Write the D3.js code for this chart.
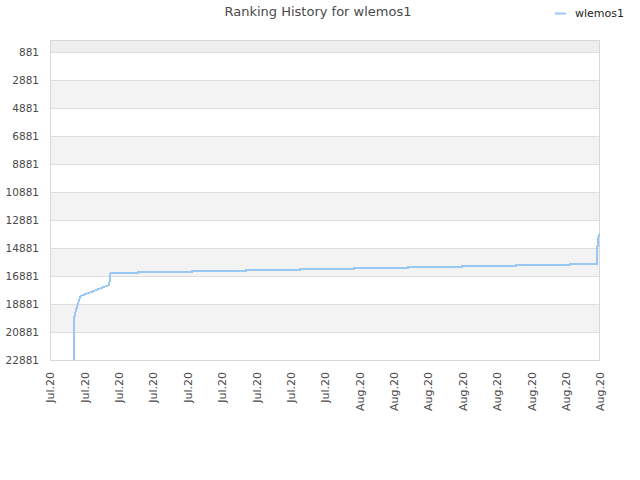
<!DOCTYPE html>
<html><head><meta charset="utf-8">
<script src="https://cdn.jsdelivr.net/npm/d3@7/dist/d3.min.js"></script>
<style>body{margin:0;background:#fff;} text{font-family:"DejaVu Sans",sans-serif;}</style>
</head><body>
<svg id="chart" width="640" height="480"></svg>
<script>
const title = "Ranking History for wlemos1";
const seriesName = "wlemos1";
const yTicks = [881, 2881, 4881, 6881, 8881, 10881, 12881, 14881, 16881, 18881, 20881, 22881];
const xStart = "2020-07-26T08:53";
const xEnd = "2020-08-05T13:20";
const times = [
  "2020-07-26T19:25","2020-07-26T19:25","2020-07-26T20:27","2020-07-26T22:13","2020-07-26T22:53",
  "2020-07-27T11:15","2020-07-27T11:20","2020-07-27T11:46",
  "2020-07-28T00:00","2020-07-28T00:00","2020-07-29T00:00","2020-07-29T00:00",
  "2020-07-30T00:00","2020-07-30T00:00","2020-07-31T00:00","2020-07-31T00:00",
  "2020-08-01T00:00","2020-08-01T00:00","2020-08-02T00:00","2020-08-02T00:00",
  "2020-08-03T00:00","2020-08-03T00:00","2020-08-04T00:00","2020-08-04T00:00",
  "2020-08-05T00:00","2020-08-05T00:00","2020-08-05T11:47","2020-08-05T11:47","2020-08-05T12:48"
];
const ranks = [
  22881, 20020, 19310, 18400, 18290,
  17520, 17310, 16690,
  16690, 16575, 16575, 16503,
  16503, 16431, 16431, 16360,
  16360, 16288, 16288, 16217,
  16217, 16145, 16145, 16074,
  16074, 16002, 16002, 15450, 13900
];

const svg = d3.select("#chart");
const L = 50, R = 600, T = 40, B = 360;
const parse = d3.timeParse("%Y-%m-%dT%H:%M");
const x = d3.scaleTime().domain([parse(xStart), parse(xEnd)]).range([L, R]);
const y = d3.scaleLinear().domain([24, 22881]).range([T, B]);

// bands
const bandEdges = [24].concat(yTicks);
for (let i = 0; i < bandEdges.length - 1; i++) {
  if (i % 2 === 0) {
    svg.append("rect").attr("x", L).attr("width", R - L)
      .attr("y", y(bandEdges[i])).attr("height", y(bandEdges[i + 1]) - y(bandEdges[i]))
      .attr("fill", i === 0 ? "#eeeeee" : "#f3f3f3");
  }
}
// grid lines
svg.append("g").selectAll("line").data(yTicks).join("line")
  .attr("x1", L).attr("x2", R).attr("y1", d => y(d) + 0.5).attr("y2", d => y(d) + 0.5)
  .attr("stroke", "#dedede").attr("stroke-width", 1);
// border
svg.append("rect").attr("x", L + 0.5).attr("y", T + 0.5).attr("width", R - L - 1).attr("height", B - T)
  .attr("fill", "none").attr("stroke", "#d8d8d8");

// y axis labels
const yAxis = d3.axisLeft(y).tickValues(yTicks).tickSize(0).tickPadding(11).tickFormat(d3.format("d"));
const gy = svg.append("g").attr("transform", `translate(${L},0)`).call(yAxis);
gy.select(".domain").remove();
gy.selectAll("text").attr("fill", "#4a4a4a").style("font-size", "10.5px").style("font-family", "DejaVu Sans");

// x axis
const xTickVals = d3.range(17).map(i => new Date(+parse(xStart) + i * (parse(xEnd) - parse(xStart)) / 16));
const xAxis = d3.axisBottom(x).tickValues(xTickVals).tickSize(0).tickFormat(d3.timeFormat("%b.%y"));
const gx = svg.append("g").attr("transform", `translate(0,${B})`).call(xAxis);
gx.select(".domain").remove();
gx.selectAll("text").attr("fill", "#4a4a4a").style("font-size", "11px").style("font-family", "DejaVu Sans")
  .attr("text-anchor", "end").attr("transform", "rotate(-90)")
  .attr("x", -12).attr("y", 0).attr("dy", "0.35em");

// line
const data = times.map((t, i) => ({ t: parse(t), r: ranks[i] }));
svg.append("path").datum(data)
  .attr("fill", "none").attr("stroke", "#99c8f4").attr("stroke-width", 2)
  .attr("shape-rendering", "crispEdges")
  .attr("d", d3.line().x(d => x(d.t)).y(d => y(d.r)));

// title
svg.append("text").attr("x", 318).attr("y", 16).attr("text-anchor", "middle")
  .attr("fill", "#4a4a4a").style("font-size", "13px").text(title);

// legend
svg.append("line").attr("x1", 555).attr("x2", 566).attr("y1", 13.5).attr("y2", 13.5)
  .attr("stroke", "#99c8f4").attr("stroke-width", 2);
svg.append("text").attr("x", 575).attr("y", 17).attr("fill", "#222")
  .style("font-size", "11px").text(seriesName);
</script>
</body></html>
